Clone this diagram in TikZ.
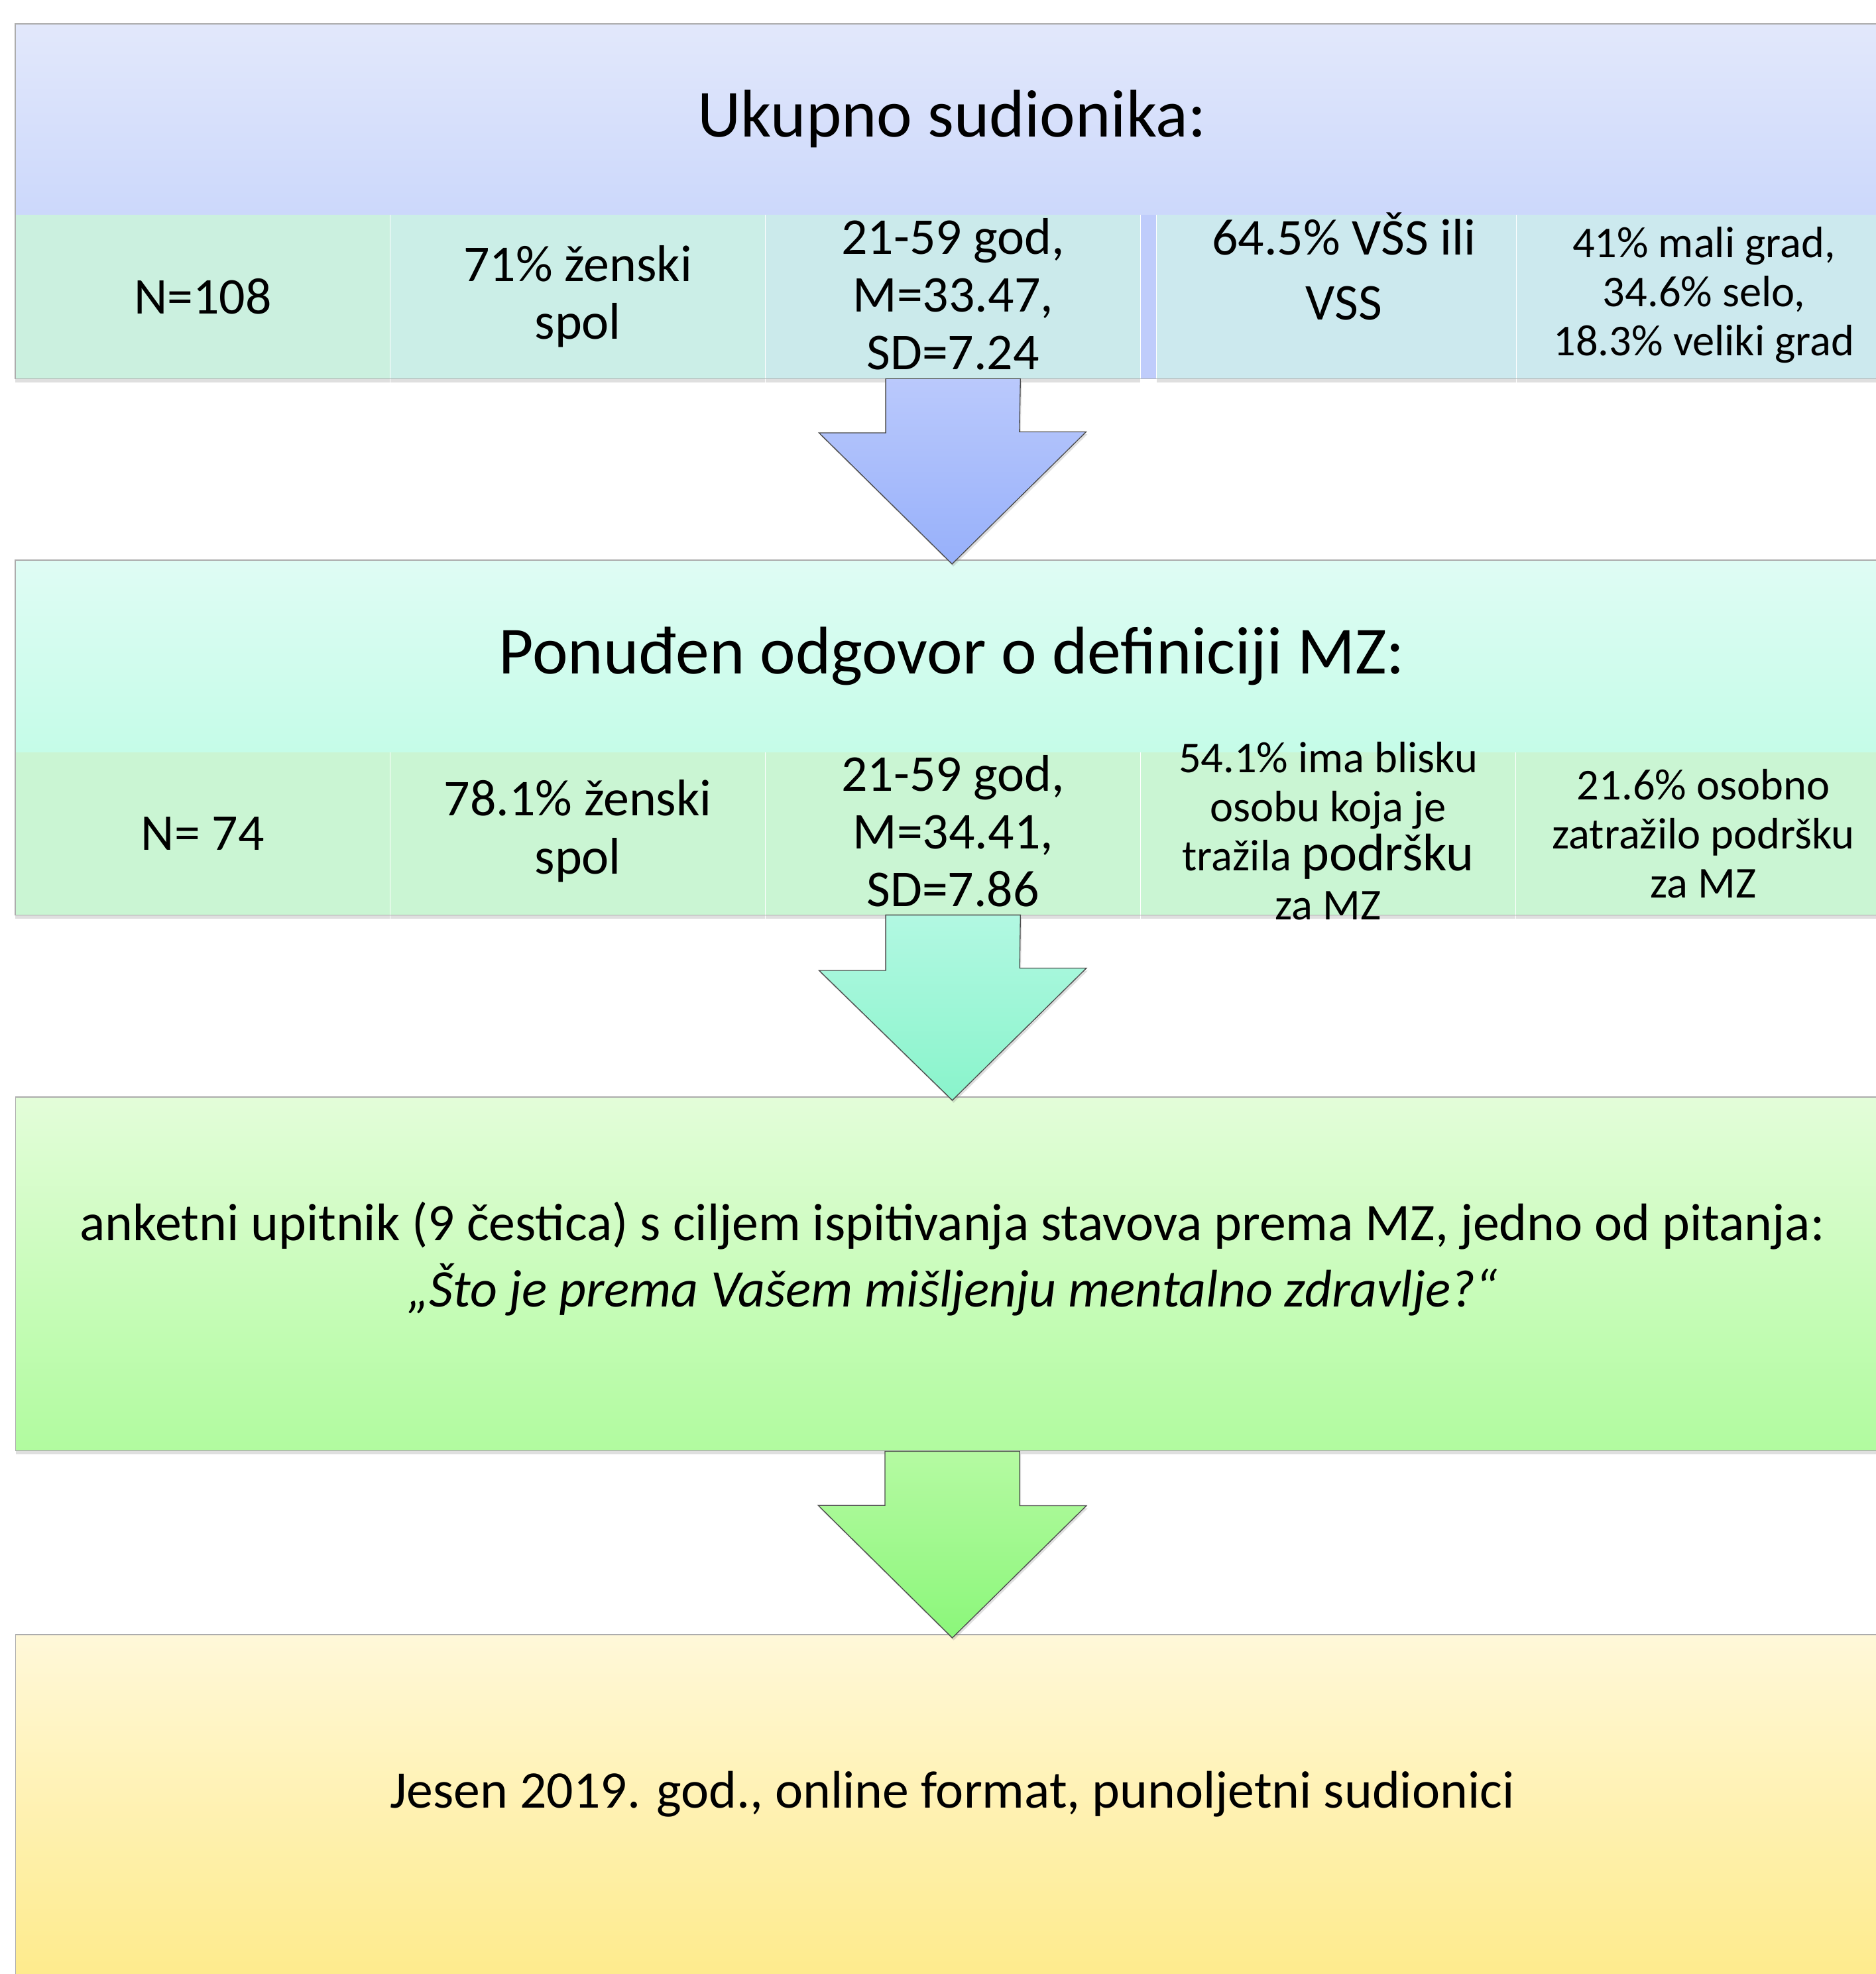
\documentclass[tikz,border=0pt]{standalone}
\usepackage{fontspec}
\setmainfont{Carlito}
\usetikzlibrary{positioning,shadows}

\definecolor{bandAtop}{HTML}{E2E8FB}
\definecolor{bandAbot}{HTML}{CCD8FB}
\definecolor{bandBtop}{HTML}{DFFCF4}
\definecolor{bandBbot}{HTML}{C5FCE8}
\definecolor{bandCtop}{HTML}{E3FDD9}
\definecolor{bandCbot}{HTML}{B1FB9F}
\definecolor{bandDtop}{HTML}{FFF8D9}
\definecolor{bandDbot}{HTML}{FEEA87}
\definecolor{arrAtop}{HTML}{BAC9FC}
\definecolor{arrAbot}{HTML}{97B0FA}
\definecolor{arrBtop}{HTML}{B2F8E2}
\definecolor{arrBbot}{HTML}{89F4CB}
\definecolor{arrCtop}{HTML}{B5FAA2}
\definecolor{arrCbot}{HTML}{8BF77A}
\definecolor{cellA}{HTML}{CBF0DF}
\definecolor{cellB}{HTML}{CBEEE7}
\definecolor{cellC}{HTML}{CBEAEB}
\definecolor{cellD}{HTML}{CCE9EE}
\definecolor{cellE}{HTML}{CCE9EE}
\definecolor{cellG}{HTML}{CAF5D3}
\definecolor{gapblue}{HTML}{BFCCFB}

\begin{document}
\begin{tikzpicture}[x=1pt, y=-1pt,
  band/.style={rectangle, inner sep=0pt, minimum width=1488pt, anchor=north west},
  cell/.style={rectangle, inner sep=0pt, minimum width=297.6pt, minimum height=130pt,
    drop shadow={shadow xshift=0pt, shadow yshift=-3pt, opacity=0.25}},
  edge/.style={draw=gray!65, line width=0.8pt},
  headtxt/.style={inner sep=0pt, font=\fontsize{53.5}{60}\selectfont},
  txt/.style={align=center, inner sep=0pt, font=\fontsize{41}{46}\selectfont},
  small/.style={align=center, inner sep=0pt, font=\fontsize{35}{39}\selectfont},
  bodytxt/.style={align=center, inner sep=0pt, font=\fontsize{42}{53}\selectfont},
  blockarrow/.style={draw=gray!60!black, line width=0.7pt,
    drop shadow={shadow xshift=1pt, shadow yshift=-2pt, opacity=0.25}}]

\useasboundingbox (0,0) rectangle (1490,1568);
\clip (0,0) rectangle (1490,1568);

% first box
\node[band, minimum height=151pt, top color=bandAtop, bottom color=bandAbot] (t1) at (12,19) {};
\node[cell, anchor=north west, fill=cellA] (c11) at (t1.south west) {};
\node[cell, fill=cellB] (c12) [right=0pt of c11] {};
\node[cell, fill=cellC] (c13) [right=0pt of c12] {};
\node[rectangle, inner sep=0pt, minimum width=12pt, minimum height=130pt, fill=gapblue] (g1) [right=0pt of c13] {};
\node[cell, minimum width=285.6pt, fill=cellD] (c14) [right=0pt of g1] {};
\node[cell, fill=cellE] (c15) [right=0pt of c14] {};
\draw[edge] (t1.north west) rectangle (c15.south east);

\node[headtxt] (h1) at (t1) {Ukupno sudionika:};
\node[txt] (x11) at (c11) {N=108};
\node[txt] (x12) at (c12) {71\% ženski\\spol};
\node[txt, yshift=2pt] (x13) at (c13) {21-59 god,\\M=33.47,\\SD=7.24};
\node[txt, xshift=6pt, yshift=24pt] (x14) at (c14) {64.5\% VŠS ili\\[6pt]VSS};
\node[small, yshift=1pt] (x15) at (c15) {41\% mali grad,\\34.6\% selo,\\18.3\% veliki grad};

% second box
\node[band, minimum height=152pt, top color=bandBtop, bottom color=bandBbot] (t2) at (12,445) {};
\node[cell, anchor=north west, minimum height=129pt, fill=cellG] (c21) at (t2.south west) {};
\node[cell, minimum height=129pt, fill=cellG] (c22) [right=0pt of c21] {};
\node[cell, minimum height=129pt, fill=cellG] (c23) [right=0pt of c22] {};
\node[cell, minimum height=129pt, fill=cellG] (c24) [right=0pt of c23] {};
\node[cell, minimum height=129pt, fill=cellG] (c25) [right=0pt of c24] {};
\draw[edge] (t2.north west) rectangle (c25.south east);

\node[headtxt] (h2) at (t2) {Ponuđen odgovor o definiciji MZ:};
\node[txt] (x21) at (c21) {N= 74};
\node[txt, yshift=2pt] (x22) at (c22) {78.1\% ženski\\spol};
\node[txt, yshift=2pt] (x23) at (c23) {21-59 god,\\M=34.41,\\SD=7.86};
\node[small, yshift=2pt] (x24) at (c24) {54.1\% ima blisku\\osobu koja je\\tražila {\fontsize{42}{42}\selectfont podršku}\\za MZ};
\node[small] (x25) at (c25) {21.6\% osobno\\zatražilo podršku\\za MZ};

% third box
\node[band, minimum height=281pt, top color=bandCtop, bottom color=bandCbot, edge,
  drop shadow={shadow xshift=0pt, shadow yshift=-3pt, opacity=0.25}] (t3) at (12,871) {};
\node[bodytxt, yshift=12pt] (x3) at (t3) {anketni upitnik (9 čestica) s ciljem ispitivanja stavova prema MZ, jedno od pitanja:\\\textit{„Što je prema Vašem mišljenju mentalno zdravlje?“}};

% fourth box
\node[band, minimum height=290pt, top color=bandDtop, bottom color=bandDbot, edge] (t4) at (12,1298) {};
\node[bodytxt, yshift=13pt] (x4) at (t4.center |- 0,1438) {Jesen 2019. god., online format, punoljetni sudionici};

% arrows
\draw[blockarrow, top color=arrAtop, bottom color=arrAbot]
  ([xshift=-53.5pt]c13.south) -- ++(0,43) -- ++(-53,0) -- ([yshift=-3pt]t2.north)
  -- ++(106.5,-105) -- ++(-53,0) -- ([xshift=53.5pt]c13.south) -- cycle;
\draw[blockarrow, top color=arrBtop, bottom color=arrBbot]
  ([xshift=-53.5pt]c23.south) -- ++(0,44) -- ++(-53,0) -- ([yshift=-3pt]t3.north)
  -- ++(106.5,-105) -- ++(-53,0) -- ([xshift=53.5pt]c23.south) -- cycle;
\draw[blockarrow, top color=arrCtop, bottom color=arrCbot]
  ([xshift=-53.5pt]t3.south) -- ++(0,43) -- ++(-53,0) -- ([yshift=-3pt]t4.north)
  -- ++(106.5,-105) -- ++(-53,0) -- ([xshift=53.5pt]t3.south) -- cycle;
\end{tikzpicture}
\end{document}
